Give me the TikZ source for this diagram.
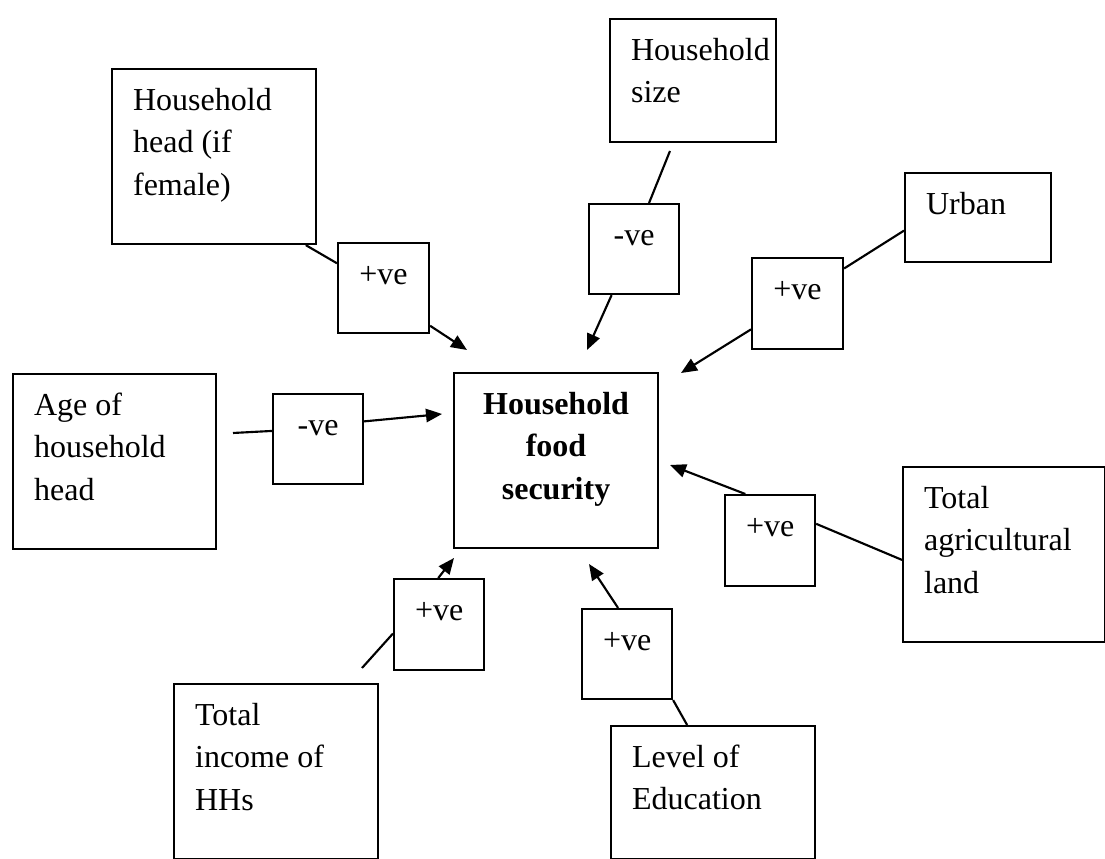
\documentclass[tikz,border=0pt]{standalone}
\usepackage{fontspec}
\setmainfont{Liberation Serif}
\usetikzlibrary{arrows.meta}
\newcommand{\bloco}[3]{\parbox[c][\dimexpr0.375pt*#2-8.2pt\relax][t]{\dimexpr0.375pt*#1-15.8pt\relax}{\raggedright\strut #3}}
\newcommand{\centro}[3]{\parbox[c][\dimexpr0.375pt*#2-8.2pt\relax][t]{\dimexpr0.375pt*#1-15.8pt\relax}{\centering\bfseries\strut #3}}

\begin{document}
\begin{tikzpicture}[x=0.375pt,y=-0.375pt,
    caixa/.style={draw, line width=0.8pt, anchor=north west, inner xsep=7.9pt, inner ysep=4.1pt,
      font=\fontsize{12}{16.1}\selectfont},
    linha/.style={line width=0.8pt},
    seta/.style={line width=0.8pt, -{Triangle[length=6pt,width=5pt]}}]
    \useasboundingbox (0,0) rectangle (1105,859);
    % factor boxes
    \node[caixa] (head) at (111,68) {\bloco{204}{175}{Household\\head (if\\female)}};
    \node[caixa] (size) at (609,18) {\bloco{166}{123}{Household\\size}};
    \node[caixa] (urban) at (904,172) {\bloco{146}{89}{Urban}};
    \node[caixa] (age) at (12,373) {\bloco{203}{175}{Age of\\household\\head}};
    \node[caixa] (hfs) at (453,372) {\centro{204}{175}{Household\\food\\security}};
    \node[caixa] (land) at (902,466) {\bloco{202}{175}{Total\\agricultural\\land}};
    \node[caixa] (income) at (173,683) {\bloco{204}{175}{Total\\income of\\HHs}};
    \node[caixa] (educ) at (610,725) {\bloco{204}{133}{Level of\\Education}};

    % sign boxes
    \node[caixa] (shead) at (337,242) {\centro{91}{90}{\mdseries +ve}};
    \node[caixa] (ssize) at (588,203) {\centro{90}{90}{\mdseries -ve}};
    \node[caixa] (surban) at (751,257) {\centro{91}{91}{\mdseries +ve}};
    \node[caixa] (sage) at (272,393) {\centro{90}{90}{\mdseries -ve}};
    \node[caixa] (sland) at (724,494) {\centro{90}{91}{\mdseries +ve}};
    \node[caixa] (sincome) at (393,578) {\centro{90}{91}{\mdseries +ve}};
    \node[caixa] (seduc) at (581,608) {\centro{90}{90}{\mdseries +ve}};

    % free ends
    \coordinate (thead) at (467,350);
    \coordinate (bsize) at (670,151);
    \coordinate (tsize) at (587,350);
    \coordinate (turban) at (681,373);
    \coordinate (bage) at (233,433);
    \coordinate (tage) at (442,414);
    \coordinate (tland) at (670,465);
    \coordinate (bincome) at (362,668);
    \coordinate (tincome) at (454,558);
    \coordinate (teduc) at (589,564);

    % connectors
    \draw[linha] (head.-44) -- (shead.152);
    \draw[seta] (shead.-39) -- (thead);
    \draw[linha] (bsize) -- (ssize.72);
    \draw[seta] (ssize.-116) -- (tsize);
    \draw[linha] (urban.190) -- (surban.37);
    \draw[seta] (surban.209) -- (turban);
    \draw[linha] (bage) -- (sage.170);
    \draw[seta] (sage.21) -- (tage);
    \draw[linha] (land.183) -- (sland.20);
    \draw[seta] (sland.118) -- (tland);
    \draw[linha] (bincome) -- (sincome.191);
    \draw[seta] (sincome.91) -- (tincome);
    \draw[linha] (educ.111) -- (seduc.south east);
    \draw[seta] (seduc.101) -- (teduc);
\end{tikzpicture}
\end{document}
